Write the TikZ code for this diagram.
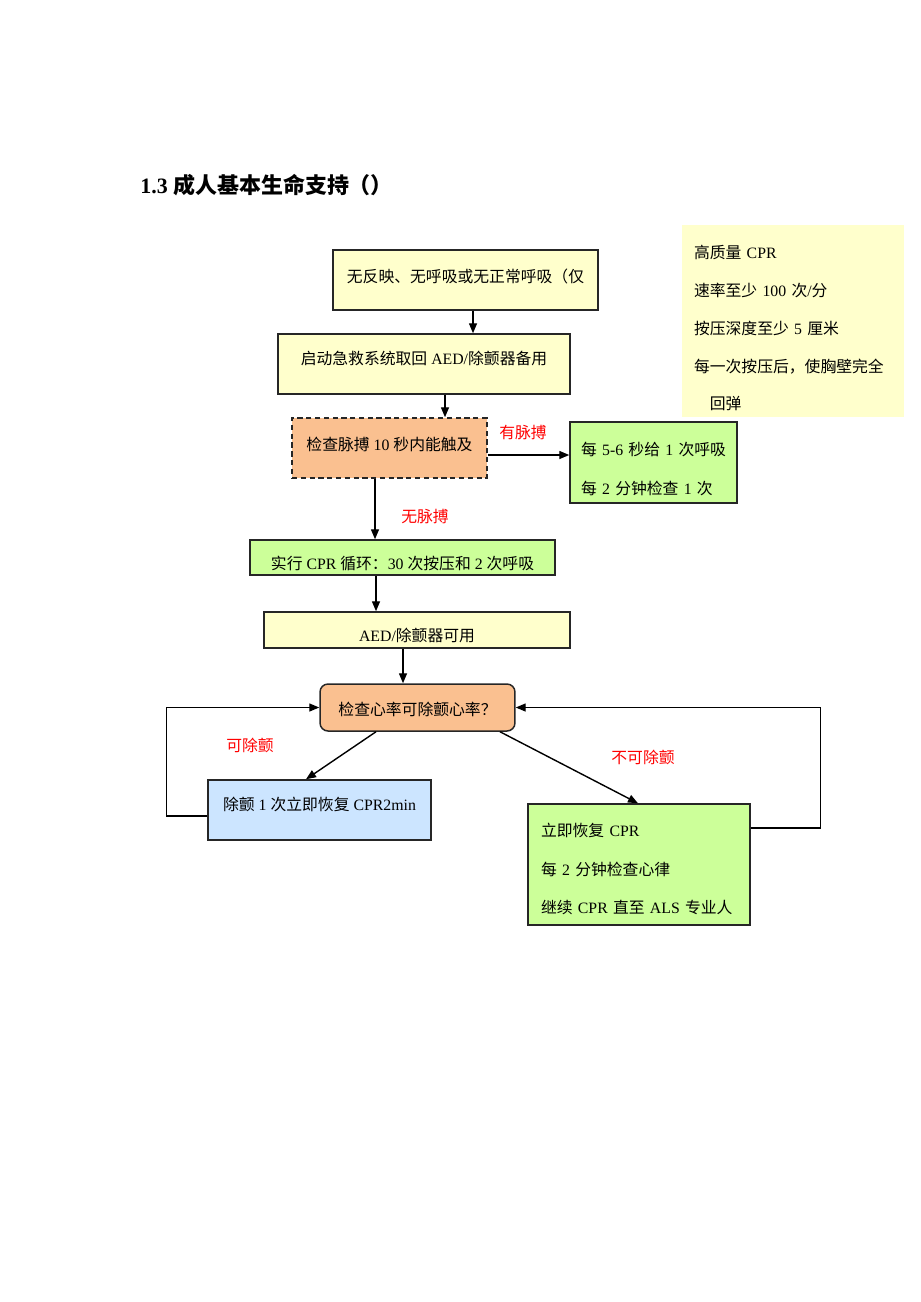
\documentclass[tikz,border=0pt]{standalone}
\usepackage{fontspec}
\setmainfont{Liberation Serif}
\newfontfamily\cjk{Noto Sans CJK SC}
\newcommand{\zh}[1]{{\cjk #1}}
\usetikzlibrary{arrows.meta}
\definecolor{boxyellow}{HTML}{FFFFCC}
\definecolor{boxgreen}{HTML}{CCFF99}
\definecolor{boxorange}{HTML}{FAC090}
\definecolor{boxblue}{HTML}{CCE5FF}
\definecolor{labelred}{HTML}{FF0000}

\begin{document}
\begin{tikzpicture}[x=0.02cm, y=-0.02cm,
  box/.style={draw=black!85, line width=0.85pt, inner sep=1pt, text height=8pt, text depth=2pt, font=\fontsize{9}{11}\selectfont},
  lines/.style={draw=black!85, line width=0.85pt, inner sep=1pt, align=left, font=\fontsize{9}{22}\selectfont},
  arr/.style={line width=0.8pt, -{Triangle[length=0.2cm, width=0.16cm]}},
  lbl/.style={text=labelred, font=\fontsize{9}{11}\selectfont}]

\useasboundingbox (0,0) rectangle (920,1302);

\node[anchor=west, inner sep=0pt, font=\fontsize{12.5}{14}\selectfont\bfseries] (title) at (140,185) {1.3 \zh{成人基本生命支持（）}};

% boxes
\node[box, fill=boxyellow, text depth=5.5pt, minimum width=5.3cm, minimum height=1.2cm] (resp) at (465.5,280) {\zh{无反映、无呼吸或无正常呼吸（仅}};
\node[box, fill=boxyellow, text depth=7pt, minimum width=5.84cm, minimum height=1.2cm] (ems) at (424,364) {\zh{启动急救系统取回} AED/\zh{除颤器备用}};
\node[box, fill=boxorange, text depth=5pt, dash pattern=on 3pt off 2pt, minimum width=3.9cm, minimum height=1.2cm] (pulse) at (389.5,448) {\zh{检查脉搏} 10 \zh{秒内能触及}};
\node[lines, fill=boxgreen, text width=2.9cm, minimum width=3.34cm, minimum height=1.62cm] (breath) at (653.5,462.5) {\rule{0pt}{14.7pt}\zh{每} 5-6 \zh{秒给} 1 \zh{次呼吸}\\\zh{每} 2 \zh{分钟检查} 1 \zh{次}};
\node[lines, draw=none, fill=boxyellow, text width=3.96cm, minimum width=4.44cm, minimum height=3.84cm, font=\fontsize{9}{21.5}\selectfont] (note) at (793,321) {\rule{0pt}{16pt}\zh{高质量} CPR\\\zh{速率至少} 100 \zh{次}/\zh{分}\\\zh{按压深度至少} 5 \zh{厘米}\\\zh{每一次按压后，使胸壁完全}\\\hspace*{1em}\zh{回弹}};
\node[box, fill=boxgreen, inner ysep=0pt, text height=16pt, minimum width=6.1cm, minimum height=0.7cm] (cpr) at (402.5,557.5) {\zh{实行} CPR \zh{循环：}30 \zh{次按压和} 2 \zh{次呼吸}};
\node[box, fill=boxyellow, inner ysep=0pt, text height=15pt, minimum width=6.12cm, minimum height=0.72cm] (aed) at (417,630) {AED/\zh{除颤器可用}};
\node[box, fill=boxorange, text height=11pt, rounded corners=0.16cm, minimum width=3.9cm, minimum height=0.94cm] (rhythm) at (417.5,707.5) {\zh{检查心率可除颤心率？}};
\node[box, fill=boxblue, text depth=7pt, minimum width=4.46cm, minimum height=1.2cm] (shock) at (319.5,810) {\zh{除颤} 1 \zh{次立即恢复} CPR2min};
\node[lines, fill=boxgreen, text width=3.92cm, minimum width=4.44cm, minimum height=2.42cm] (resume) at (639,864.5) {\rule{0pt}{13pt}\zh{立即恢复} CPR\\\zh{每} 2 \zh{分钟检查心律}\\\zh{继续} CPR \zh{直至} ALS \zh{专业人}};

% connectors
\draw[arr] (473,0 |- resp.south) -- (473,0 |- ems.north);
\draw[arr] (445,0 |- ems.south) -- (445,0 |- pulse.north);
\draw[arr] (pulse.east |- 0,455) -- (breath.west |- 0,455);
\draw[arr] (375,0 |- pulse.south) -- (375,0 |- cpr.north);
\draw[arr] (376,0 |- cpr.south) -- (376,0 |- aed.north);
\draw[arr] (403,0 |- aed.south) -- (403,0 |- rhythm.north);
\draw[arr] (376,0 |- rhythm.south) -- (306,0 |- shock.north);
\draw[arr] (500,0 |- rhythm.south) -- (638,0 |- resume.north);
\draw[arr] (shock.west |- 0,816) -- ++(-41,0) |- (rhythm.west);
\draw[arr] (resume.east |- 0,828) -- ++(70,0) |- (rhythm.east);

% labels
\node[lbl] (yes) at (523,432) {\zh{有脉搏}};
\node[lbl] (no) at (425,516) {\zh{无脉搏}};
\node[lbl] (shockable) at (250,745) {\zh{可除颤}};
\node[lbl] (nonshockable) at (643,757) {\zh{不可除颤}};

\end{tikzpicture}
\end{document}
